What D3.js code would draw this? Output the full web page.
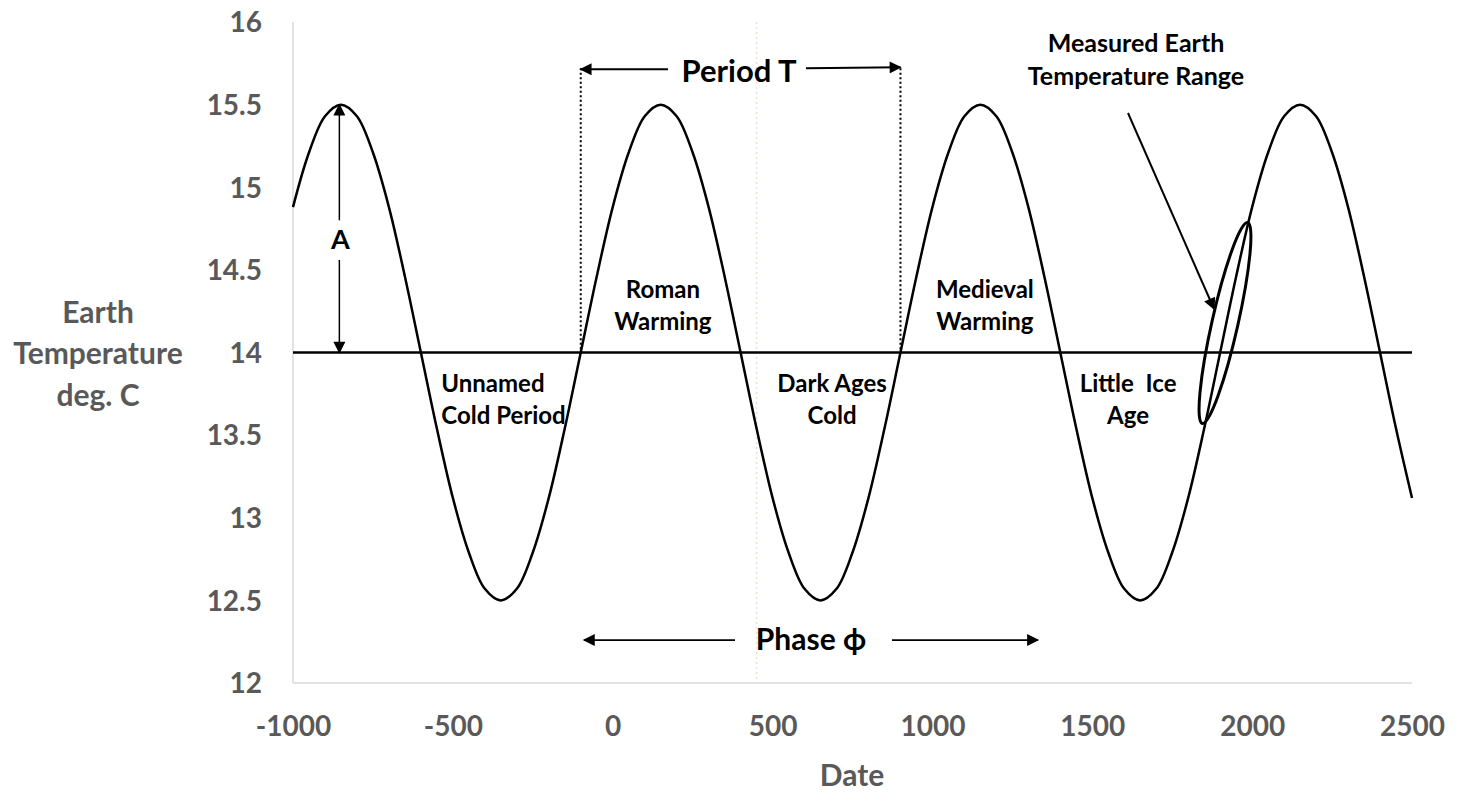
<!DOCTYPE html>
<html><head><meta charset="utf-8">
<script src="https://cdn.jsdelivr.net/npm/d3@7"></script>
<style>body{margin:0;background:#fff;} svg{display:block;}</style>
</head><body>
<svg id="chart" width="1469" height="795"></svg>
<script>
// ---- data ----
const years = d3.range(-1000, 2501, 50);
const temps = [
  14.88,15.21,15.43,15.5,15.43,15.21,14.88,14.46,14.0,13.54,13.12,12.79,12.57,12.5,12.57,12.79,13.12,13.54,14.0,14.46,
  14.88,15.21,15.43,15.5,15.43,15.21,14.88,14.46,14.0,13.54,13.12,12.79,12.57,12.5,12.57,12.79,13.12,13.54,14.0,14.46,
  14.88,15.21,15.43,15.5,15.43,15.21,14.88,14.46,14.0,13.54,13.12,12.79,12.57,12.5,12.57,12.79,13.12,13.54,14.0,14.46,
  14.88,15.21,15.43,15.5,15.43,15.21,14.88,14.46,14.0,13.54,13.12
];
const xTicks = [-1000,-500,0,500,1000,1500,2000,2500];
const xTickLabels = ["-1000","-500","0","500","1000","1500","2000","2500"];
const yTicks = [12,12.5,13,13.5,14,14.5,15,15.5,16];
const yTickLabels = ["12","12.5","13","13.5","14","14.5","15","15.5","16"];
const meanTemp = 14;
const guideYear = 450;
const periodStart = -100, periodEnd = 900, periodArrowY = 15.72;
const phaseStart = -90, phaseEnd = 1330, phaseArrowY = 12.26;
const ampYear = -855, ampTop = 15.5;
const periodLabels = [
  {lines:["Unnamed","Cold Period"], x:-536, y:13.81, anchor:"start"},
  {lines:["Roman","Warming"], x:157, y:14.38, anchor:"middle"},
  {lines:["Dark Ages","Cold"], x:686, y:13.81, anchor:"middle"},
  {lines:["Medieval","Warming"], x:1164, y:14.38, anchor:"middle"},
  {lines:["Little  Ice","Age"], x:1612, y:13.81, anchor:"middle"}
];

const svg = d3.select("#chart");
const x = d3.scaleLinear().domain([-1000,2500]).range([293,1412]);
const y = d3.scaleLinear().domain([12,16]).range([683,22]);

const gray = "#595959";
const font = "Lato, 'Open Sans', sans-serif";

// markers
const defs = svg.append("defs");
defs.append("marker").attr("id","ah").attr("viewBox","0 0 10 10").attr("refX",9).attr("refY",5)
  .attr("markerWidth",16).attr("markerHeight",12).attr("markerUnits","userSpaceOnUse").attr("orient","auto")
  .append("path").attr("d","M0,0 L10,5 L0,10 Z").attr("fill","#000");

// axes lines
svg.append("line").attr("x1",x(-1000)).attr("x2",x(-1000)).attr("y1",y(16)).attr("y2",y(12))
  .attr("stroke","#d9d9d9").attr("stroke-width",1.5);
svg.append("line").attr("x1",x(-1000)).attr("x2",x(2500)).attr("y1",y(12)).attr("y2",y(12))
  .attr("stroke","#d9d9d9").attr("stroke-width",1.5);

// faint dotted guide
svg.append("line").attr("x1",x(guideYear)).attr("x2",x(guideYear)).attr("y1",y(16)).attr("y2",y(12))
  .attr("stroke","#dfe5d3").attr("stroke-width",1.5).attr("stroke-dasharray","2,3");

// axis tick labels
const yAxis = d3.axisLeft(y).tickValues(yTicks).tickSize(0).tickPadding(0)
  .tickFormat((d,i)=>yTickLabels[i]);
const gy = svg.append("g").attr("transform",`translate(${262},0)`).call(yAxis);
gy.select(".domain").remove();
gy.selectAll("text").attr("font-family",font).attr("font-weight","bold").attr("font-size",28)
  .attr("fill",gray).attr("dy","0.35em");

const xAxis = d3.axisBottom(x).tickValues(xTicks).tickSize(0).tickPadding(0)
  .tickFormat((d,i)=>xTickLabels[i]);
const gx = svg.append("g").attr("transform",`translate(0,${726})`).call(xAxis);
gx.select(".domain").remove();
gx.selectAll("text").attr("font-family",font).attr("font-weight","bold").attr("font-size",28)
  .attr("fill",gray).attr("dy","0.35em");

// axis titles
svg.append("text").attr("x",852).attr("y",775).attr("text-anchor","middle").attr("dy","0.35em")
  .attr("font-family",font).attr("font-weight","bold").attr("font-size",30).attr("fill",gray).text("Date");
const yt = svg.append("text").attr("text-anchor","middle").attr("font-family",font)
  .attr("font-weight","bold").attr("font-size",30).attr("fill",gray);
["Earth","Temperature","deg. C"].forEach((t,i)=>{
  yt.append("tspan").attr("x",98).attr("y",312+i*41.5).attr("dy","0.35em").text(t);
});

// mean line
svg.append("line").attr("x1",x(-1000)).attr("x2",x(2500)).attr("y1",y(meanTemp)).attr("y2",y(meanTemp))
  .attr("stroke","#000").attr("stroke-width",2.5);

// curve
const data = years.map((yr,i)=>({yr, t:temps[i]}));
svg.append("path").datum(data)
  .attr("d", d3.line().x(d=>x(d.yr)).y(d=>y(d.t)).curve(d3.curveCatmullRom))
  .attr("fill","none").attr("stroke","#000").attr("stroke-width",2.5);

// amplitude arrow
svg.append("line").attr("x1",x(ampYear)).attr("x2",x(ampYear)).attr("y1",y(14.8)).attr("y2",y(ampTop))
  .attr("stroke","#000").attr("stroke-width",1.5).attr("marker-end","url(#ah)");
svg.append("line").attr("x1",x(ampYear)).attr("x2",x(ampYear)).attr("y1",y(14.56)).attr("y2",y(meanTemp))
  .attr("stroke","#000").attr("stroke-width",1.5).attr("marker-end","url(#ah)");
svg.append("text").attr("x",x(ampYear)+1).attr("y",240).attr("dy","0.35em").attr("text-anchor","middle")
  .attr("font-family",font).attr("font-weight","bold").attr("font-size",27).attr("fill","#000").text("A");

// period
[periodStart, periodEnd].forEach(p=>{
  svg.append("line").attr("x1",x(p)).attr("x2",x(p)).attr("y1",y(periodArrowY)).attr("y2",y(meanTemp))
    .attr("stroke","#000").attr("stroke-width",2).attr("stroke-dasharray","2,2.5");
});
svg.append("line").attr("x1",668).attr("x2",x(periodStart)).attr("y1",y(periodArrowY)+1).attr("y2",y(periodArrowY)+1)
  .attr("stroke","#000").attr("stroke-width",1.8).attr("marker-end","url(#ah)");
svg.append("line").attr("x1",806).attr("x2",x(periodEnd)).attr("y1",y(periodArrowY)).attr("y2",y(periodArrowY)-1)
  .attr("stroke","#000").attr("stroke-width",1.8).attr("marker-end","url(#ah)");
svg.append("text").attr("x",739).attr("y",y(periodArrowY)+3).attr("dy","0.35em").attr("text-anchor","middle")
  .attr("font-family",font).attr("font-weight","bold").attr("font-size",31).attr("fill","#000").text("Period T");

// phase
svg.append("line").attr("x1",735).attr("x2",x(phaseStart)).attr("y1",y(phaseArrowY)).attr("y2",y(phaseArrowY))
  .attr("stroke","#000").attr("stroke-width",1.8).attr("marker-end","url(#ah)");
svg.append("line").attr("x1",892).attr("x2",x(phaseEnd)).attr("y1",y(phaseArrowY)).attr("y2",y(phaseArrowY))
  .attr("stroke","#000").attr("stroke-width",1.8).attr("marker-end","url(#ah)");
svg.append("text").attr("x",811).attr("y",y(phaseArrowY)-1).attr("dy","0.35em").attr("text-anchor","middle")
  .attr("font-family",font).attr("font-weight","bold").attr("font-size",30).attr("fill","#000").text("Phase ϕ");

// period labels
periodLabels.forEach(l=>{
  const t = svg.append("text").attr("text-anchor",l.anchor).attr("font-family",font)
    .attr("font-weight","bold").attr("font-size",24).attr("fill","#000").attr("xml:space","preserve");
  l.lines.forEach((s,i)=>{
    t.append("tspan").attr("x",x(l.x)).attr("y",y(l.y)+i*31.5).attr("dy","0.35em").text(s);
  });
});

// measured range
const mt = svg.append("text").attr("text-anchor","middle").attr("font-family",font)
  .attr("font-weight","bold").attr("font-size",25).attr("fill","#000");
["Measured Earth","Temperature Range"].forEach((s,i)=>{
  mt.append("tspan").attr("x",1136).attr("y",43+i*33).attr("dy","0.35em").text(s);
});
svg.append("line").attr("x1",1128).attr("y1",113).attr("x2",1214).attr("y2",309)
  .attr("stroke","#000").attr("stroke-width",2).attr("marker-end","url(#ah)");
svg.append("ellipse").attr("cx",1225).attr("cy",323).attr("rx",103).attr("ry",13)
  .attr("transform","rotate(-77.3,1225,323)")
  .attr("fill","none").attr("stroke","#000").attr("stroke-width",3);
</script>
</body></html>
